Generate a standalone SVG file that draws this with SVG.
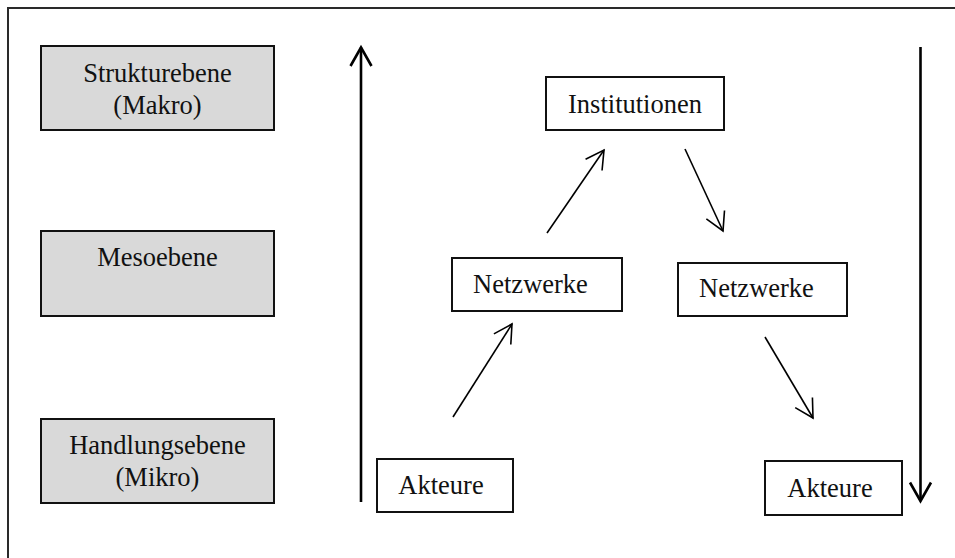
<svg xmlns="http://www.w3.org/2000/svg" width="955" height="558" viewBox="0 0 955 558">
  <style>
    .frame { fill: none; stroke: #2a2a2a; stroke-width: 2; }
    .level { fill: #d9d9d9; stroke: #111; stroke-width: 2; }
    .box { fill: #fff; stroke: #111; stroke-width: 2; }
    .lbl { font-family: "Liberation Serif", "Times New Roman", serif; font-size: 26.5px; fill: #111; text-anchor: middle; }
    .axis { stroke: #000; stroke-width: 2.6; fill: none; }
    .flow { stroke: #000; stroke-width: 1.6; fill: none; }
  </style>
  <defs>
    <marker id="headThick" markerUnits="userSpaceOnUse" markerWidth="24" markerHeight="26" viewBox="-20 -13 24 26" refX="0" refY="0" orient="auto">
      <path d="M -18.5 -10.5 L 0 0 L -18.5 10.5" fill="none" stroke="#000" stroke-width="2.6"/>
    </marker>
    <marker id="headThin" markerUnits="userSpaceOnUse" markerWidth="24" markerHeight="26" viewBox="-20 -13 24 26" refX="0" refY="0" orient="auto">
      <path d="M -18 -10 L 0 0 L -18 10" fill="none" stroke="#000" stroke-width="1.6"/>
    </marker>
  </defs>

  <rect width="955" height="558" fill="#fff"/>
  <!-- outer frame (runs past the right and bottom edges) -->
  <rect class="frame" x="8" y="8" width="960" height="570"/>

  <!-- level labels -->
  <g id="level-makro">
    <rect class="level" x="41" y="46" width="233" height="84"/>
    <text class="lbl" x="157.5" y="82">Strukturebene</text>
    <text class="lbl" x="157.5" y="114">(Makro)</text>
  </g>
  <g id="level-meso">
    <rect class="level" x="41" y="231" width="233" height="85"/>
    <text class="lbl" x="157.5" y="266">Mesoebene</text>
  </g>
  <g id="level-mikro">
    <rect class="level" x="41" y="419" width="233" height="84"/>
    <text class="lbl" x="157.5" y="454">Handlungsebene</text>
    <text class="lbl" x="157.5" y="486">(Mikro)</text>
  </g>

  <!-- nodes -->
  <g id="institutionen">
    <rect class="box" x="546" y="77" width="178" height="53"/>
    <text class="lbl" x="635" y="113">Institutionen</text>
  </g>
  <g id="netzwerke-links">
    <rect class="box" x="452" y="258" width="170" height="53"/>
    <text class="lbl" x="530.5" y="293">Netzwerke</text>
  </g>
  <g id="netzwerke-rechts">
    <rect class="box" x="678" y="263" width="169" height="53"/>
    <text class="lbl" x="756.5" y="297">Netzwerke</text>
  </g>
  <g id="akteure-links">
    <rect class="box" x="377" y="459" width="136" height="53"/>
    <text class="lbl" x="441" y="494">Akteure</text>
  </g>
  <g id="akteure-rechts">
    <rect class="box" x="765" y="461" width="137" height="54"/>
    <text class="lbl" x="830" y="497">Akteure</text>
  </g>

  <!-- connectors -->
  <g id="connectors">
    <line class="axis" x1="361" y1="502" x2="361" y2="47.5" marker-end="url(#headThick)"/>
    <line class="axis" x1="920.5" y1="47" x2="920.5" y2="501" marker-end="url(#headThick)"/>
    <line class="flow" x1="453" y1="417" x2="512" y2="324" marker-end="url(#headThin)"/>
    <line class="flow" x1="547" y1="233" x2="604" y2="150" marker-end="url(#headThin)"/>
    <line class="flow" x1="685" y1="149" x2="723" y2="231" marker-end="url(#headThin)"/>
    <line class="flow" x1="765" y1="337" x2="813" y2="418" marker-end="url(#headThin)"/>
  </g>
</svg>
